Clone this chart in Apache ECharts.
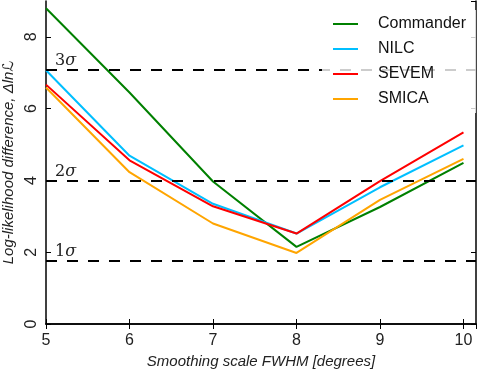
<!DOCTYPE html>
<html>
<head>
<meta charset="utf-8">
<script src="https://cdn.jsdelivr.net/npm/echarts@6/dist/echarts.min.js"></script>
<style>
	html, body { margin:0; padding:0; background:#fff; }
	#main { width:480px; height:373px; }
</style>
</head>
<body>
<div id="main"></div>
<script>
	// smoothing scale FWHM in degrees
	var fwhm = [5, 6, 7, 8, 9, 10];

	var commander = [8.8, 6.45, 3.97, 2.15, 3.26, 4.49];
	var nilc      = [7.07, 4.69, 3.35, 2.52, 3.81, 4.98];
	var sevem     = [6.67, 4.56, 3.28, 2.52, 3.98, 5.34];
	var smica     = [6.59, 4.23, 2.8, 1.98, 3.46, 4.6];

	var sigmaLevels = [1.75, 4.0, 7.08];
	var sigmaNames = ["1", "2", "3"];

	var names  = ["Commander", "NILC", "SEVEM", "SMICA"];
	var values = [commander, nilc, sevem, smica];
	var colors = ["#008000", "#00bfff", "#ff0000", "#ffa500"];

	var sansFont = "'Liberation Sans', 'DejaVu Sans', sans-serif";

	function toPoints(ys){
		var pts = [];
		for(var i = 0; i < fwhm.length; i++){
			pts.push([fwhm[i], ys[i]]);
		}
		return pts;
	}

	function sigmaLines(){
		var lines = [];
		for(var i = 0; i < sigmaLevels.length; i++){
			lines.push({
				yAxis: sigmaLevels[i],
				label: { formatter: "{n|" + sigmaNames[i] + "}{s|σ}" }
			});
		}
		return lines;
	}

	var series = [];
	for(var k = 0; k < names.length; k++){
		var s = {
			name: names[k],
			type: "line",
			data: toPoints(values[k]),
			showSymbol: false,
			symbol: "none",
			lineStyle: { color: colors[k], width: 2 },
			itemStyle: { color: colors[k] },
			z: 2
		};
		if(k == 0){
			s.markLine = {
				silent: true,
				symbol: ["none", "none"],
				animation: false,
				lineStyle: { color: "#000", width: 2, type: [11, 10] },
				label: {
					position: "insideStartTop",
					distance: [9, 1],
					rich: {
						n: { fontFamily: "'DejaVu Serif', serif", fontSize: 16, color: "#222" },
						s: { fontFamily: "'DejaVu Serif', serif", fontSize: 16, fontStyle: "italic", color: "#222" }
					}
				},
				data: sigmaLines()
			};
		}
		series.push(s);
	}

	var frameLine = { show: true, lineStyle: { color: "#000", width: 1.5 } };
	var frameTick = { show: true, inside: true, length: 5, lineStyle: { color: "#000", width: 1 } };

	var option = {
		animation: false,
		backgroundColor: "#fff",
		grid: { left: 46, right: 4, top: 1, bottom: 49, containLabel: false, outerBoundsMode: "none" },
		legend: {
			orient: "vertical",
			left: 322,
			top: 10,
			z: 20,
			padding: [6, 10, 6, 11],
			itemGap: 9,
			itemWidth: 25,
			itemHeight: 2,
			icon: "rect",
			backgroundColor: "rgba(255,255,255,0.8)",
			textStyle: { fontFamily: sansFont, fontSize: 16, color: "#111", padding: [0, 0, 0, 15] },
			data: names
		},
		xAxis: [{
			type: "value",
			min: 5, max: 10.15, interval: 1,
			position: "bottom",
			axisLine: frameLine,
			axisTick: frameTick,
			splitLine: { show: false },
			axisLabel: { fontFamily: sansFont, fontSize: 16, color: "#222", margin: 9, showMaxLabel: false },
			name: "Smoothing scale FWHM [degrees]",
			nameLocation: "middle",
			nameGap: 28,
			nameTextStyle: { fontFamily: sansFont, fontSize: 15, fontStyle: "italic", color: "#222" }
		}, {
			type: "value",
			min: 5, max: 10.15, interval: 1,
			position: "top",
			axisLine: frameLine,
			axisTick: frameTick,
			splitLine: { show: false },
			axisLabel: { show: false }
		}],
		yAxis: [{
			type: "value",
			min: 0, max: 9, interval: 2,
			position: "left",
			axisLine: frameLine,
			axisTick: frameTick,
			splitLine: { show: false },
			axisLabel: { fontFamily: sansFont, fontSize: 16, color: "#222", margin: 6, rotate: 90, showMaxLabel: false },
			name: "Log-likelihood difference, Δlnℒ",
			nameLocation: "middle",
			nameGap: 28,
			nameRotate: 90,
			nameTextStyle: { fontFamily: sansFont, fontSize: 15, fontStyle: "italic", color: "#222" }
		}, {
			type: "value",
			min: 0, max: 9, interval: 2,
			position: "right",
			axisLine: frameLine,
			axisTick: frameTick,
			splitLine: { show: false },
			axisLabel: { show: false }
		}],
		series: series
	};

	var chart = echarts.init(document.getElementById("main"));
	chart.setOption(option);
</script>
</body>
</html>
